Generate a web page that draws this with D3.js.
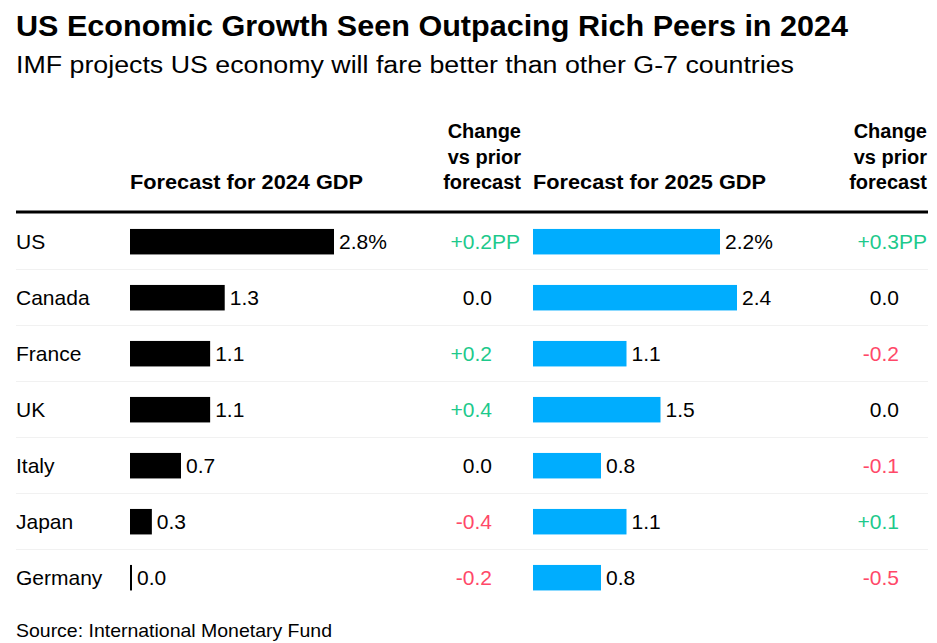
<!DOCTYPE html>
<html>
<head>
<meta charset="utf-8">
<script src="https://cdn.jsdelivr.net/npm/d3@7"></script>
<style>
  html, body { margin: 0; padding: 0; background: #fff; }
  svg { display: block; }
  text { font-family: "Liberation Sans", Arial, sans-serif; fill: #000; }
</style>
</head>
<body>
<svg id="chart" width="937" height="643"></svg>
<script>
const countries = ["US", "Canada", "France", "UK", "Italy", "Japan", "Germany"];
const gdp2024 = [2.8, 1.3, 1.1, 1.1, 0.7, 0.3, 0.0];
const change2024 = [0.2, 0.0, 0.2, 0.4, 0.0, -0.4, -0.2];
const gdp2025 = [2.2, 2.4, 1.1, 1.5, 0.8, 1.1, 0.8];
const change2025 = [0.3, 0.0, -0.2, 0.0, -0.1, 0.1, -0.5];

const title = "US Economic Growth Seen Outpacing Rich Peers in 2024";
const subtitle = "IMF projects US economy will fare better than other G-7 countries";
const source = "Source: International Monetary Fund";
const header2024 = "Forecast for 2024 GDP";
const header2025 = "Forecast for 2025 GDP";
const changeHeader = ["Change", "vs prior", "forecast"];

const svg = d3.select("#chart");
const left = 16, right = 928;

const colors = { bar2024: "#000000", bar2025: "#00adfe", pos: "#1dc98c", neg: "#ff4868", zero: "#000000" };

// Title + subtitle
svg.append("text").attr("x", left).attr("y", 36)
  .attr("font-size", 29).attr("font-weight", "bold")
  .attr("textLength", 832).attr("lengthAdjust", "spacingAndGlyphs")
  .text(title);
svg.append("text").attr("x", left).attr("y", 73)
  .attr("font-size", 23)
  .attr("textLength", 778).attr("lengthAdjust", "spacingAndGlyphs")
  .text(subtitle);

// Headers
const hdr = svg.append("g");
[[130, header2024], [533, header2025]].forEach(([x, t]) => {
  hdr.append("text").attr("x", x).attr("y", 189)
    .style("font-weight", "bold").attr("font-size", 19.5)
    .attr("textLength", 233).attr("lengthAdjust", "spacingAndGlyphs")
    .text(t);
});
[521, 927].forEach(x => {
  changeHeader.forEach((t, i) => {
    hdr.append("text").attr("x", x).attr("y", 138 + i * 25.5)
      .attr("text-anchor", "end").style("font-weight", "bold").attr("font-size", 20).text(t);
  });
});

// header rule
svg.append("line").attr("x1", left).attr("x2", right).attr("y1", 212).attr("y2", 212)
  .attr("stroke", "#000").attr("stroke-width", 3);

// scales
const y = d3.scaleBand().domain(countries).range([214, 214 + 56 * countries.length]).paddingInner(0).paddingOuter(0);
const barH = 25.5;
const x2024 = d3.scaleLinear().domain([0, 2.8]).range([130, 334]);
const x2025 = d3.scaleLinear().domain([0, 2.4]).range([533, 737]);

const rows = countries.map((c, i) => ({ c, i, g4: gdp2024[i], c4: change2024[i], g5: gdp2025[i], c5: change2025[i] }));

// separators
svg.append("g").selectAll("line").data(rows.slice(0, -1)).join("line")
  .attr("x1", left).attr("x2", right)
  .attr("y1", d => y(d.c) + y.bandwidth() - 0.5)
  .attr("y2", d => y(d.c) + y.bandwidth() - 0.5)
  .attr("stroke", "#f1f1f1").attr("stroke-width", 1);

const cy = d => y(d.c) + y.bandwidth() / 2 - 0.3;
const FS = 21;

// country labels
svg.append("g").selectAll("text").data(rows).join("text")
  .attr("x", left).attr("y", d => cy(d) + 7)
  .attr("font-size", FS).text(d => d.c);

function drawBars(key, xs, color) {
  const g = svg.append("g");
  g.selectAll("rect").data(rows).join("rect")
    .attr("x", xs(0)).attr("y", d => cy(d) - barH / 2)
    .attr("width", d => Math.max(xs(d[key]) - xs(0), 2))
    .attr("height", barH).attr("fill", color);
  g.selectAll("text").data(rows).join("text")
    .attr("x", d => Math.max(xs(d[key]), xs(0) + 2) + 5)
    .attr("y", d => cy(d) + 7.5)
    .attr("font-size", FS)
    .text(d => d3.format(".1f")(d[key]) + (d.i === 0 ? "%" : ""));
}
drawBars("g4", x2024, colors.bar2024);
drawBars("g5", x2025, colors.bar2025);

function fmtChange(v) {
  if (v > 0) return "+" + d3.format(".1f")(v);
  if (v < 0) return "-" + d3.format(".1f")(-v);
  return "0.0";
}
function drawChange(key, xEnd) {
  const g = svg.append("g");
  const col = v => v > 0 ? colors.pos : v < 0 ? colors.neg : colors.zero;
  g.selectAll("text.v").data(rows).join("text").attr("class", "v")
    .attr("x", xEnd).attr("y", d => cy(d) + 7.5)
    .attr("text-anchor", "end").attr("font-size", FS)
    .style("fill", d => col(d[key]))
    .text(d => fmtChange(d[key]));
  g.selectAll("text.s").data(rows.filter(d => d.i === 0)).join("text").attr("class", "s")
    .attr("x", xEnd).attr("y", d => cy(d) + 7.5)
    .attr("font-size", FS)
    .style("fill", d => col(d[key]))
    .text("PP");
}
drawChange("c4", 492);
drawChange("c5", 899);

// source
svg.append("text").attr("x", left).attr("y", 637).attr("font-size", 18.5)
  .attr("textLength", 316).attr("lengthAdjust", "spacingAndGlyphs").text(source);
</script>
</body>
</html>
